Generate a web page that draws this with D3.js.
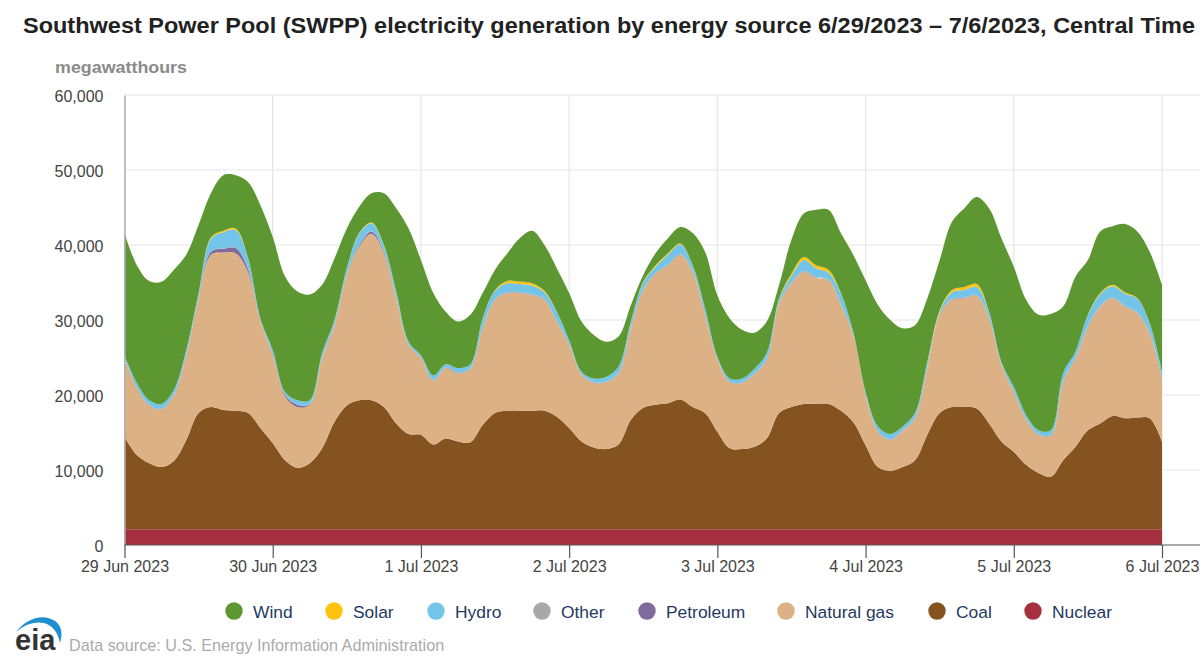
<!DOCTYPE html>
<html>
<head>
<meta charset="utf-8">
<script src="https://cdn.jsdelivr.net/npm/d3@7"></script>
<style>
html,body{margin:0;padding:0;background:#fff;}
svg{display:block;font-family:"Liberation Sans",Arial,sans-serif;}
</style>
</head>
<body>
<svg id="chart" width="1200" height="664"></svg>
<script>
const titleText = "Southwest Power Pool (SWPP) electricity generation by energy source 6/29/2023 – 7/6/2023, Central Time";
const unitText = "megawatthours";
const sourceText = "Data source: U.S. Energy Information Administration";
const yTicks = [0, 10000, 20000, 30000, 40000, 50000, 60000];
const seriesNames = ["Wind", "Solar", "Hydro", "Other", "Petroleum", "Natural gas", "Coal", "Nuclear"];
const seriesColors = ["#5d9732", "#ffc20e", "#72c5e8", "#a8a8a8", "#80699b", "#dcb185", "#845320", "#a4303f"];

// Values in thousands of MWh, read every two hours from 29 Jun 00:00 to 6 Jul 00:00.
const wind = [
 16.3,15.7,15.9,16.3,16,12.7,9.1,5.9,7.4,7.1,10.1,15.1,
 15.1,15.4,14.5,14.1,9.1,8.2,5.3,3.5,3.9,6.9,11.1,15.1,
 12.7,11,7,6.2,6.6,3.4,2.7,3.7,5.8,7,6.1,5.8,
 6.3,6.7,5.8,4.7,4,2.2,.9,1.6,2,2.2,4.3,7.5,
 8.2,8,6.5,4.8,4.2,1.8,4.5,5.8,7.4,8,8,10.3,
 14.9,16.2,15.2,13.1,11.7,8.5,6.7,9.1,10.5,11.6,13.8,16.5,
 16,15.4,15.4,15.5,8.9,10,7.3,8.2,7.8,9.1,8.9,9.5,11.6];
const solar = [
 0,0,0,0,0,0,.05,.15,.2,.2,.05,0,
 0,0,0,0,0,0,.05,.1,.1,.1,.05,0,
 0,0,0,0,0,.05,.1,.3,.3,.3,.2,.05,
 0,0,0,0,0,.05,.1,.2,.2,.1,.05,0,
 0,0,0,0,0,.1,.3,.4,.4,.4,.1,0,
 0,0,0,0,0,.1,.2,.3,.4,.4,.1,0,
 0,0,0,0,0,0,.05,.15,.2,.15,.05,.05,0];
const hydro = [
 .3,.6,.6,.6,.6,.6,.55,1.7,2.15,2.35,1.4,.3,
 .55,.35,.55,.45,.6,.6,.75,1.45,1.05,.75,.75,.3,
 .3,.6,.4,.6,.5,1.15,1.1,1.2,1.1,1.2,.9,1.15,
 .5,.3,.5,.6,.8,.75,.9,.8,1.3,1.3,.75,.8,
 .3,.4,.5,.6,.8,.5,.9,1.5,1.2,.9,1.4,.3,
 .3,.6,.7,.5,.6,.6,.3,.9,1,1.1,.7,.3,
 .6,.5,.5,.6,1,.8,1.45,1.55,1.5,1.65,1.85,1.25,.8];
const other = [
 .05,.05,.05,.05,.05,.05,.05,.05,.05,.05,.05,.05,
 .05,.05,.05,.05,.05,.05,.05,.05,.05,.05,.05,.05,
 .05,.05,.05,.05,.05,.05,.05,.05,.05,.05,.05,.05,
 .05,.05,.05,.05,.05,.05,.05,.05,.05,.05,.05,.05,
 .05,.05,.05,.05,.05,.05,.05,.05,.05,.05,.05,.05,
 .05,.05,.05,.05,.05,.05,.05,.05,.05,.05,.05,.05,
 .05,.05,.05,.05,.05,.05,.05,.05,.05,.05,.05,.05,.05];
const petroleum = [
 .05,.05,.05,.05,.05,.05,.05,.4,.5,.7,.4,.05,
 .1,.2,.3,.1,.05,.05,.05,.2,.3,.2,.05,.05,
 .05,.05,.05,.05,.05,.05,.05,.05,.05,.05,.05,.05,
 .05,.05,.05,.05,.05,.05,.05,.05,.05,.05,.05,.05,
 .05,.05,.05,.05,.05,.05,.05,.05,.05,.05,.05,.05,
 .05,.05,.05,.05,.05,.05,.05,.05,.05,.05,.05,.05,
 .05,.05,.05,.05,.05,.05,.05,.05,.05,.05,.05,.05,.05];
const naturalGas = [
 10.5,8.9,7.7,7.7,8.8,11.3,15.3,20.3,21,21,18.8,14.2,
 11.7,8.5,8.1,7.8,12,12.9,17.4,20.5,22.2,20.5,16.7,11.9,
 10.2,8.5,9.4,9.1,9.8,12.9,15.1,15.7,15.7,15.4,14.8,12.7,
 11.1,8.9,8.6,8.9,9.5,12.2,15.7,17.5,18.4,19.3,18,13.1,
 9.6,8.8,8.8,9.7,10.5,14.6,16.5,17.6,16.8,16.5,14.1,11.6,
 6.7,4.7,4.1,4.8,5.6,8.9,13.1,14.3,14.5,15,14,10.2,
 8,6,5.1,5.5,10.5,11.8,13.8,15.6,15.7,14.9,13.9,11.3,8.4];
const coal = [
 12.3,9.9,8.8,8.3,9.1,11.9,15.5,16.3,15.9,15.8,15.5,13.5,
 11.5,9.2,8.2,8.8,10.8,14.3,16.5,17.2,17.2,16.3,14.1,12.7,
 12.6,11.3,12.1,11.7,11.6,13.9,15.5,15.8,15.8,15.8,15.8,15,
 13.5,11.7,10.9,10.7,11.3,14.6,16.2,16.6,16.8,17.3,16.3,15.5,
 13,10.8,10.7,11,12.1,15.5,16.3,16.7,16.7,16.7,15.8,14.3,
 11.2,8.3,7.8,8.3,9.2,12.6,15.5,16.3,16.3,16.1,14.1,11.7,
 10.3,8.6,7.5,7,9.2,11,13.2,14.1,15.1,14.8,14.9,14.8,11.7];
const nuclear = [
 2.1,2.1,2.1,2.1,2.1,2.1,2.1,2.1,2.1,2.1,2.1,2.1,
 2.1,2.1,2.1,2.1,2.1,2.1,2.1,2.1,2.1,2.1,2.1,2.1,
 2.1,2.1,2.1,2.1,2.1,2.1,2.1,2.1,2.1,2.1,2.1,2.1,
 2.1,2.1,2.1,2.1,2.1,2.1,2.1,2.1,2.1,2.1,2.1,2.1,
 2.1,2.1,2.1,2.1,2.1,2.1,2.1,2.1,2.1,2.1,2.1,2.1,
 2.1,2.1,2.1,2.1,2.1,2.1,2.1,2.1,2.1,2.1,2.1,2.1,
 2.1,2.1,2.1,2.1,2.1,2.1,2.1,2.1,2.1,2.1,2.1,2.1,2.1];

const seriesValues = {"Wind":wind,"Solar":solar,"Hydro":hydro,"Other":other,"Petroleum":petroleum,"Natural gas":naturalGas,"Coal":coal,"Nuclear":nuclear};

const start = Date.UTC(2023, 5, 29);
const hourMs = 3600000;
const rows = wind.map((_, i) => {
  const r = {t: new Date(start + i * 2 * hourMs)};
  seriesNames.forEach(n => r[n] = seriesValues[n][i] * 1000);
  return r;
});

const svg = d3.select("#chart");
const left = 124.5, right = 1162, top_ = 95, bottom = 545, edge = 1200;
const x = d3.scaleUtc().domain([new Date(start), new Date(start + 168 * hourMs)]).range([left, right]);
const y = d3.scaleLinear().domain([0, 60000]).range([bottom, top_]);
const dayTicks = d3.utcDay.range(new Date(start), new Date(start + 169 * hourMs));

// gridlines
svg.append("g").selectAll("line").data(yTicks.filter(d => d > 0)).join("line")
  .attr("x1", left).attr("x2", edge).attr("y1", d => y(d)).attr("y2", d => y(d))
  .attr("stroke", "#e6e6e6").attr("stroke-width", 1.2);
svg.append("g").selectAll("line").data(dayTicks.slice(1)).join("line")
  .attr("x1", d => x(d)).attr("x2", d => x(d)).attr("y1", top_).attr("y2", bottom)
  .attr("stroke", "#e6e6e6").attr("stroke-width", 1.2);

// stacked areas
const stackOrder = seriesNames.slice().reverse();
const stacked = d3.stack().keys(stackOrder)(rows);
const area = d3.area().x(d => x(d.data.t)).y0(d => y(d[0])).y1(d => y(d[1])).curve(d3.curveCatmullRom.alpha(0.5));
svg.append("g").selectAll("path").data(stacked).join("path")
  .attr("d", area)
  .attr("fill", d => seriesColors[seriesNames.indexOf(d.key)]);

// y axis
const yAxis = d3.axisLeft(y).tickValues(yTicks).tickSize(0).tickPadding(0).tickFormat(d3.format(","));
const gy = svg.append("g").attr("transform", `translate(${left},0)`).call(yAxis);
gy.select(".domain").attr("stroke", "#aaaaaa").attr("stroke-width", 1.5);
gy.selectAll("text").attr("x", -21).attr("dy", "6.5px").attr("font-size", 16).attr("fill", "#444").attr("font-family", null);

// x axis
const xAxis = d3.axisBottom(x).tickValues(dayTicks).tickSize(13).tickPadding(0)
  .tickFormat(d => d3.utcFormat("%-d %b %Y")(d));
const gx = svg.append("g").attr("transform", `translate(0,${bottom})`).call(xAxis);
gx.select(".domain").remove();
gx.append("line").attr("x1", left).attr("x2", edge).attr("y1", 0).attr("y2", 0).attr("stroke", "#555").attr("stroke-width", 1.2);
gx.selectAll(".tick line").attr("stroke", "#555").attr("stroke-width", 1.2);
gx.selectAll("text").attr("y", 27).attr("dy", 0).attr("font-size", 16).attr("fill", "#444").attr("font-family", null);

// title and unit
svg.append("text").attr("x", 23).attr("y", 33).attr("font-size", 22).attr("font-weight", "bold").attr("fill", "#222")
  .attr("textLength", 1172).attr("lengthAdjust", "spacingAndGlyphs").text(titleText);
svg.append("text").attr("x", 55).attr("y", 73).attr("font-size", 16.5).attr("font-weight", "bold").attr("fill", "#8a8a8a")
  .attr("textLength", 132).attr("lengthAdjust", "spacingAndGlyphs").text(unitText);

// legend
const legendX = [234, 334, 436, 542, 647, 786, 937, 1033];
const legend = svg.append("g").selectAll("g").data(seriesNames).join("g")
  .attr("transform", (d, i) => `translate(${legendX[i]},611)`);
legend.append("circle").attr("r", 8.7).attr("fill", (d, i) => seriesColors[i]);
legend.append("text").attr("x", 19).attr("y", 7).attr("font-size", 17.4).attr("fill", "#1f3a5f").text(d => d);

// source and logo
svg.append("text").attr("x", 69).attr("y", 651).attr("font-size", 16.2).attr("fill", "#aaaaaa").text(sourceText);
svg.append("path").attr("d", "M16,632 C24,621 38,615 48,618 C60,621 64,630 60,643 C58,632 52,625 44,623 C34,621 24,625 16,632 Z").attr("fill", "#1d8fd0");
svg.append("text").attr("x", 15).attr("y", 650).attr("font-size", 29).attr("font-weight", "bold").attr("fill", "#333").text("eia");
</script>
</body>
</html>
